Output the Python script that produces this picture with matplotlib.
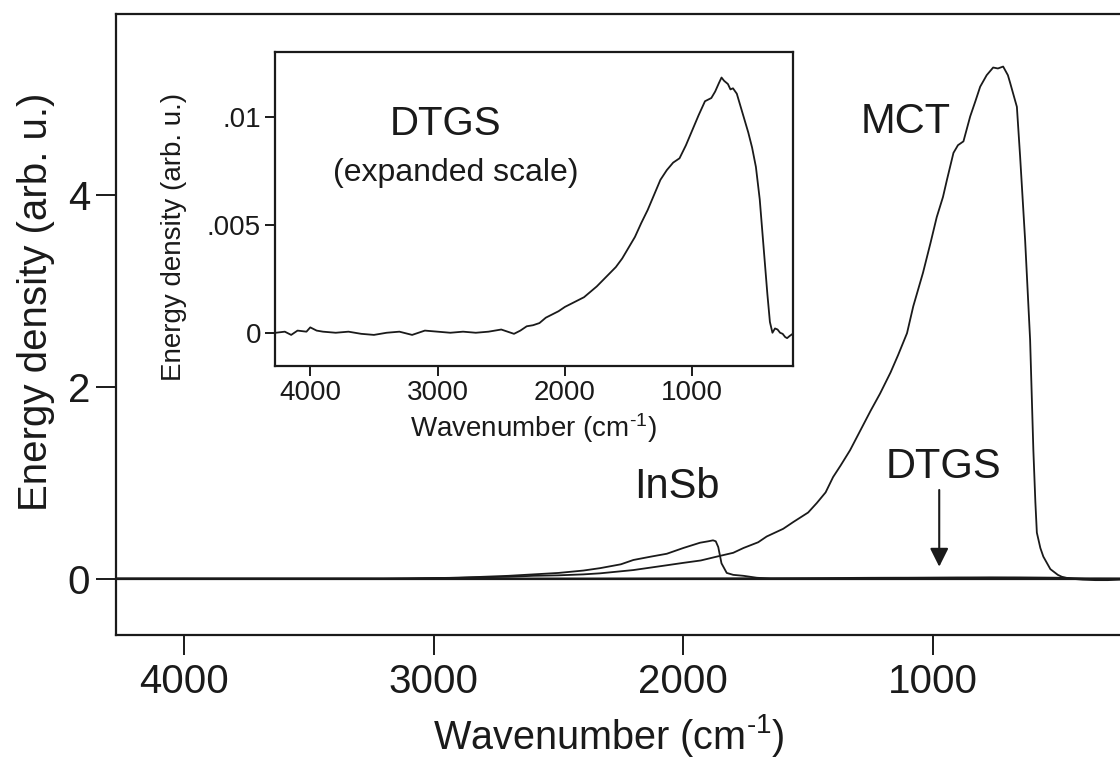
import matplotlib
matplotlib.use("Agg")
import matplotlib.pyplot as plt

plt.rcParams['font.family'] = ['Liberation Sans', 'DejaVu Sans']
plt.rcParams['mathtext.fontset'] = 'custom'
plt.rcParams['mathtext.rm'] = 'Liberation Sans'
plt.rcParams['mathtext.it'] = 'Liberation Sans'
plt.rcParams['mathtext.default'] = 'regular'

# ---------------- data ----------------
mct_w = [4272, 3200, 3050, 2900, 2800, 2700, 2600, 2500, 2400, 2333, 2200, 2066, 2000,
         1930, 1866, 1800, 1759, 1700, 1666, 1600, 1560, 1500, 1465, 1430, 1400, 1370,
         1332, 1290, 1250, 1212, 1170, 1140, 1104, 1079, 1040, 1010, 985, 960, 944, 918,
         900, 878, 851, 830, 811, 785, 759, 740, 719, 700, 691, 664, 651, 631, 611, 598,
         590, 584, 570, 558, 530, 500, 484, 450, 400, 350, 300, 250]
mct_v = [0.0, 0.0, 0.005, 0.01, 0.015, 0.02, 0.03, 0.035, 0.045, 0.056, 0.09, 0.14, 0.165,
         0.19, 0.23, 0.27, 0.32, 0.38, 0.44, 0.52, 0.59, 0.69, 0.79, 0.90, 1.06, 1.18,
         1.34, 1.55, 1.75, 1.93, 2.15, 2.33, 2.56, 2.84, 3.19, 3.50, 3.77, 3.98, 4.16, 4.44,
         4.52, 4.56, 4.82, 4.98, 5.13, 5.25, 5.33, 5.32, 5.34, 5.25, 5.17, 4.92, 4.40, 3.53, 2.49, 1.34,
         0.80, 0.48, 0.32, 0.23, 0.10, 0.04, 0.02, 0.0, -0.01, -0.015, -0.015, -0.01]

insb_w = [4272, 3100, 2900, 2800, 2700, 2600, 2500, 2400, 2333, 2250, 2200, 2130, 2066,
          2000, 1933, 1900, 1881, 1870, 1860, 1847, 1826, 1800, 1759, 1706, 1650, 250]
insb_v = [0.0, 0.0, 0.01, 0.02, 0.03, 0.045, 0.06, 0.085, 0.11, 0.15, 0.195, 0.23, 0.26,
          0.32, 0.375, 0.39, 0.40, 0.39, 0.33, 0.16, 0.06, 0.04, 0.03, 0.01, 0.0, 0.0]

dtgs_w = [4270, 4200, 4150, 4100, 4030, 4000, 3950, 3900, 3800, 3700, 3600, 3500, 3400,
          3300, 3200, 3100, 3000, 2900, 2800, 2700, 2600, 2500, 2450, 2400, 2350, 2300,
          2250, 2200, 2150, 2100, 2050, 2000, 1950, 1900, 1850, 1800, 1750, 1700, 1650,
          1600, 1550, 1500, 1450, 1400, 1350, 1300, 1250, 1200, 1150, 1100, 1050, 1000,
          950, 900, 850, 820, 790, 770, 750, 720, 700, 680, 650, 620, 590, 560, 530, 500,
          470, 440, 410, 390, 370, 350, 330, 310, 290, 270, 255, 235, 211]
dtgs_v_milli = [0.0, 0.05, -0.1, 0.1, 0.05, 0.25, 0.1, 0.05, 0.0, 0.05, -0.05, -0.1, 0.0,
                0.05, -0.1, 0.1, 0.05, 0.0, 0.05, 0.0, 0.05, 0.15, 0.05, -0.05, 0.1, 0.3,
                0.35, 0.45, 0.7, 0.85, 1.0, 1.2, 1.35, 1.5, 1.65, 1.9, 2.15, 2.45, 2.75,
                3.05, 3.45, 3.95, 4.45, 5.1, 5.7, 6.4, 7.1, 7.55, 7.9, 8.1, 8.7, 9.4,
                10.1, 10.75, 10.9, 11.2, 11.6, 11.85, 11.7, 11.55, 11.3, 11.35, 11.1, 10.5, 9.9, 9.3, 8.6, 7.7,
                6.2, 4.0, 1.8, 0.5, 0.0, 0.2, 0.15, 0.0, -0.05, -0.2, -0.25, -0.15, -0.05]
dtgs_v = [v * 1e-3 for v in dtgs_v_milli]

main_xticks = [4000, 3000, 2000, 1000]
main_yticks = [0, 2, 4]
inset_yticks = [0, 0.005, 0.01]
inset_yticklabels = ['0', '.005', '.01']

XLABEL = r'Wavenumber (cm$^{\text{-}1}$)'

# ---------------- figure ----------------
W, H = 1120, 757
fig = plt.figure(figsize=(W / 100, H / 100), dpi=100)

def fx(px):
    return px / W

def fy(py):
    return 1 - py / H

INK = '#1a1a1a'

L, R, T, B = 116, 1122, 14, 634.7
ax = fig.add_axes([fx(L), fy(B), fx(R) - fx(L), fy(T) - fy(B)])
ax.set_xlim(4272, 243)
ax.set_ylim(-0.584, 5.888)
ax.axhline(0, color=INK, lw=1.6, zorder=1)
ax.plot(mct_w, mct_v, color=INK, lw=1.3)
ax.plot(insb_w, insb_v, color=INK, lw=1.3)
ax.plot(dtgs_w, dtgs_v, color=INK, lw=1.6)
for s in ax.spines.values():
    s.set_linewidth(1.6)
    s.set_color(INK)
ax.spines['right'].set_visible(False)
ax.set_xticks(main_xticks)
ax.set_yticks(main_yticks)
ax.tick_params(axis='both', direction='out', length=14.5, width=1.4, labelsize=29,
               colors=INK, pad=4)
ax.tick_params(axis='x', pad=6)
ax.set_xlabel(XLABEL, fontsize=28.5, color=INK)
ax.set_ylabel('Energy density (arb. u.)', fontsize=29, color=INK)
ax.xaxis.set_label_coords(0.49, -0.124)
ax.yaxis.set_label_coords(-0.061, 0.536)

ax.text(1111, 4.76, 'MCT', fontsize=30, ha='center', va='center', color=INK)
ax.text(2025, 0.956, 'InSb', fontsize=30, ha='center', va='center', color=INK)
ax.text(959, 1.165, 'DTGS', fontsize=30, ha='center', va='center', color=INK)
ax.annotate('', xy=(975, 0.125), xytext=(975, 0.925),
            arrowprops=dict(arrowstyle='-|>', color=INK, lw=1.5,
                            mutation_scale=28, shrinkA=0, shrinkB=0))

# ---------------- inset ----------------
iL, iR, iT, iB = 275, 792.7, 51.7, 365.7
ax2 = fig.add_axes([fx(iL), fy(iB), fx(iR) - fx(iL), fy(iT) - fy(iB)])
ax2.set_xlim(4277, 211)
ax2.set_ylim(-0.00153, 0.01305)
ax2.plot(dtgs_w, dtgs_v, color=INK, lw=1.3)
for s in ax2.spines.values():
    s.set_linewidth(1.6)
    s.set_color(INK)
ax2.set_xticks(main_xticks)
ax2.set_yticks(inset_yticks)
ax2.set_yticklabels(inset_yticklabels)
ax2.tick_params(axis='both', direction='out', length=7, width=1.4, labelsize=20,
                colors=INK, pad=3)
ax2.set_xlabel(XLABEL, fontsize=20, color=INK, labelpad=4)
ax2.set_ylabel('Energy density (arb. u.)', fontsize=20, color=INK)
ax2.yaxis.set_label_coords(-0.17, 0.41)
ax2.text(0.33, 0.77, 'DTGS', fontsize=29, ha='center', va='center', color=INK,
         transform=ax2.transAxes)
ax2.text(0.35, 0.615, '(expanded scale)', fontsize=23, ha='center', va='center',
         color=INK, transform=ax2.transAxes)

fig.savefig('out.png', dpi=100)
